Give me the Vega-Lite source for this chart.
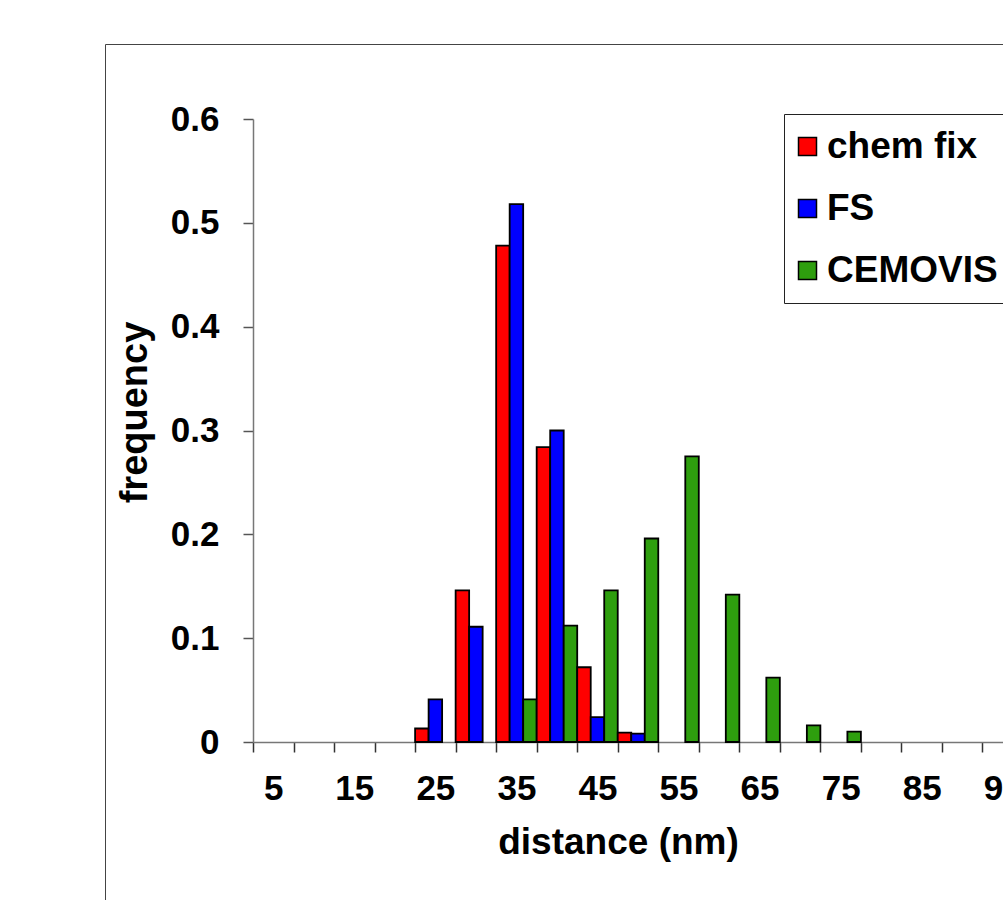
{
  "$schema": "https://vega.github.io/schema/vega-lite/v6.json",
  "width": 898,
  "height": 856,
  "autosize": {"type": "none"},
  "padding": {"left": 105, "top": 44, "right": 0, "bottom": 0},
  "background": "white",
  "config": {
    "font": "Liberation Sans",
    "view": {"stroke": "#444", "strokeWidth": 1}
  },
  "data": {
    "values": [
      {"distance": 25, "method": "chem fix", "frequency": 0.013},
      {"distance": 25, "method": "FS", "frequency": 0.041},
      {"distance": 30, "method": "chem fix", "frequency": 0.146},
      {"distance": 30, "method": "FS", "frequency": 0.111},
      {"distance": 35, "method": "chem fix", "frequency": 0.478},
      {"distance": 35, "method": "FS", "frequency": 0.518},
      {"distance": 35, "method": "CEMOVIS", "frequency": 0.041},
      {"distance": 40, "method": "chem fix", "frequency": 0.284},
      {"distance": 40, "method": "FS", "frequency": 0.300},
      {"distance": 40, "method": "CEMOVIS", "frequency": 0.112},
      {"distance": 45, "method": "chem fix", "frequency": 0.072},
      {"distance": 45, "method": "FS", "frequency": 0.024},
      {"distance": 45, "method": "CEMOVIS", "frequency": 0.146},
      {"distance": 50, "method": "chem fix", "frequency": 0.009},
      {"distance": 50, "method": "FS", "frequency": 0.008},
      {"distance": 50, "method": "CEMOVIS", "frequency": 0.196},
      {"distance": 55, "method": "CEMOVIS", "frequency": 0.275},
      {"distance": 60, "method": "CEMOVIS", "frequency": 0.142},
      {"distance": 65, "method": "CEMOVIS", "frequency": 0.062},
      {"distance": 70, "method": "CEMOVIS", "frequency": 0.016},
      {"distance": 75, "method": "CEMOVIS", "frequency": 0.010}
    ]
  },
  "mark": {"type": "bar", "stroke": "black", "strokeWidth": 1.8},
  "encoding": {
    "x": {
      "field": "distance",
      "type": "ordinal",
      "scale": {
        "domain": [5, 10, 15, 20, 25, 30, 35, 40, 45, 50, 55, 60, 65, 70, 75, 80, 85, 90, 95],
        "range": [148, 918],
        "paddingInner": 0,
        "paddingOuter": 0
      },
      "axis": {
        "title": "distance (nm)",
        "offset": -158,
        "tickBand": "extent",
        "tickSize": 10,
        "tickWidth": 1.5,
        "tickColor": "#333",
        "domainColor": "#777",
        "domainWidth": 1.5,
        "labelAngle": 0,
        "labelOverlap": false,
        "labelExpr": "datum.value % 10 == 0 ? '' : datum.value",
        "labelFontSize": 35,
        "labelFontWeight": "bold",
        "labelColor": "black",
        "labelBaseline": "alphabetic",
        "labelPadding": 47,
        "titleFontSize": 37,
        "titleFontWeight": "bold",
        "titleColor": "black",
        "titleX": 513,
        "titleY": 111,
        "titleBaseline": "alphabetic",
        "titleAlign": "center"
      }
    },
    "xOffset": {
      "field": "method",
      "type": "nominal",
      "scale": {"domain": ["chem fix", "FS", "CEMOVIS"], "paddingInner": 0, "paddingOuter": 0}
    },
    "y": {
      "field": "frequency",
      "type": "quantitative",
      "scale": {"domain": [0, 0.6], "range": [698, 75], "nice": false, "zero": true},
      "axis": {
        "title": "frequency",
        "offset": -148,
        "grid": false,
        "values": [0, 0.1, 0.2, 0.3, 0.4, 0.5, 0.6],
        "format": ".1~f",
        "tickSize": 10,
        "tickWidth": 1.5,
        "tickColor": "#555",
        "domainColor": "#777",
        "domainWidth": 1.5,
        "labelPadding": 24,
        "labelFontSize": 35,
        "labelFontWeight": "bold",
        "labelColor": "black",
        "titleFontSize": 38,
        "titleFontWeight": "bold",
        "titleColor": "black",
        "titleAngle": 270,
        "titleX": -107,
        "titleY": 368,
        "titleBaseline": "alphabetic",
        "titleAlign": "center"
      }
    },
    "color": {
      "field": "method",
      "type": "nominal",
      "scale": {"domain": ["chem fix", "FS", "CEMOVIS"], "range": ["#FF0000", "#0000FF", "#2E9E0E"]},
      "legend": {
        "orient": "none",
        "legendX": 679,
        "legendY": 70,
        "title": null,
        "strokeColor": "#222",
        "fillColor": "white",
        "padding": 14,
        "symbolType": "square",
        "symbolSize": 324,
        "symbolOffset": -9,
        "symbolStrokeColor": "black",
        "symbolStrokeWidth": 1.5,
        "labelFontSize": 37,
        "labelFontWeight": "bold",
        "labelColor": "black",
        "labelLimit": 0,
        "labelOffset": 1,
        "rowPadding": 24
      }
    }
  }
}
